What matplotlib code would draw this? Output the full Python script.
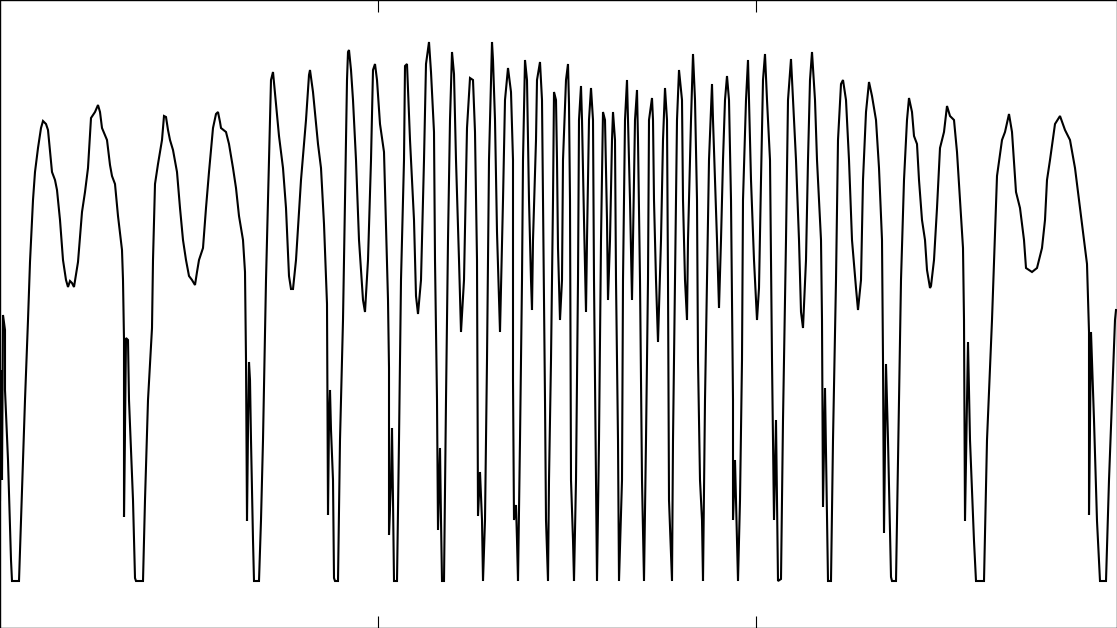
import matplotlib
matplotlib.use("Agg")
import matplotlib.pyplot as plt

# Signal samples (sample index, amplitude)
sample = [
    0, 1, 2, 3, 5, 5, 8, 11, 12, 19, 21, 25, 28, 30, 33, 35, 38, 41, 43, 46, 48, 52, 55, 57, 60, 63, 66, 68, 70, 72, 74, 78,
    82, 85, 88, 91, 95, 98, 100, 102, 107, 110, 112, 115, 118, 122, 123, 124, 124, 126, 128, 129, 133, 135, 136, 143, 145,
    148, 152, 153, 155, 158, 162, 164, 166, 168, 170, 173, 177, 180, 183, 186, 189, 192, 195, 197, 199, 203, 206, 209, 213,
    216, 218, 220, 221, 226, 229, 233, 236, 239, 243, 245, 246, 247, 248, 249, 250, 251, 253, 254, 259, 261, 263, 266, 269,
    271, 273, 276, 279, 283, 286, 289, 291, 293, 296, 301, 306, 309, 310, 313, 318, 321, 324, 327, 328, 329, 330, 331, 333,
    334, 335, 338, 340, 343, 345, 347, 348, 349, 351, 353, 356, 359, 363, 365, 368, 371, 373, 375, 377, 380, 384, 386, 388,
    389, 389, 391, 392, 393, 394, 397, 399, 401, 404, 405, 407, 410, 414, 416, 418, 421, 424, 426, 429, 431, 434, 435, 437,
    438, 440, 441, 442, 444, 446, 448, 450, 452, 454, 456, 459, 461, 464, 466, 467, 470, 473, 475, 477, 478, 480, 482, 483,
    485, 487, 489, 492, 493, 495, 497, 500, 503, 505, 508, 511, 513, 513, 514, 516, 517, 518, 520, 522, 523, 525, 527, 529,
    531, 532, 533, 536, 537, 540, 542, 543, 545, 546, 548, 549, 551, 553, 554, 556, 557, 558, 560, 562, 563, 566, 568, 569,
    570, 571, 573, 574, 576, 578, 579, 581, 582, 584, 586, 587, 589, 591, 593, 594, 596, 597, 599, 601, 603, 605, 607, 608,
    610, 612, 613, 615, 616, 618, 619, 622, 623, 625, 627, 628, 630, 632, 633, 635, 637, 638, 640, 642, 644, 646, 648, 649,
    652, 653, 654, 656, 658, 661, 663, 665, 667, 668, 669, 672, 673, 675, 677, 679, 682, 683, 685, 687, 688, 691, 693, 695,
    697, 698, 700, 702, 703, 705, 707, 709, 712, 713, 715, 717, 719, 721, 723, 725, 727, 729, 731, 733, 733, 735, 737, 738,
    740, 742, 743, 746, 748, 749, 751, 754, 757, 759, 761, 763, 765, 767, 770, 772, 774, 776, 778, 781, 783, 786, 788, 791,
    793, 796, 799, 801, 803, 806, 808, 810, 812, 815, 817, 821, 822, 823, 825, 827, 828, 831, 833, 836, 838, 841, 843, 846,
    849, 852, 856, 858, 861, 863, 866, 869, 872, 876, 879, 882, 883, 884, 886, 888, 891, 892, 896, 899, 901, 904, 907, 909,
    912, 914, 917, 919, 922, 925, 927, 930, 931, 934, 937, 940, 944, 947, 950, 954, 957, 960, 963, 964, 965, 967, 968, 970,
    974, 976, 984, 987, 992, 997, 1002, 1005, 1009, 1012, 1016, 1020, 1024, 1026, 1032, 1037, 1042, 1045, 1047, 1050, 1055,
    1060, 1065, 1070, 1075, 1080, 1084, 1087, 1089, 1089, 1091, 1094, 1097, 1100, 1106, 1109, 1112, 1115, 1116,
]

amplitude = [
    81, 211, 101, 266, 251, 191, 121, 21, 0, 0, 61, 181, 261, 319, 381, 409, 433, 453, 460, 457, 451, 409, 401, 391, 361,
    321, 301, 294, 300, 298, 294, 319, 369, 389, 413, 463, 469, 476, 469, 453, 441, 416, 405, 397, 365, 331, 301, 241, 64,
    243, 241, 181, 81, 3, 0, 0, 81, 181, 253, 321, 397, 417, 441, 465, 464, 451, 441, 431, 409, 373, 341, 321, 305, 301, 296,
    309, 321, 333, 373, 409, 453, 467, 469, 459, 453, 449, 437, 413, 393, 365, 341, 309, 221, 60, 151, 219, 201, 141, 41, 0,
    0, 61, 141, 301, 421, 501, 509, 477, 445, 413, 373, 305, 292, 292, 321, 401, 461, 506, 511, 489, 437, 413, 357, 277, 66,
    161, 191, 151, 101, 3, 0, 0, 141, 261, 381, 501, 529, 531, 511, 481, 421, 341, 281, 269, 321, 421, 511, 517, 501, 457,
    429, 357, 281, 213, 46, 101, 153, 81, 0, 0, 141, 301, 421, 515, 517, 441, 361, 285, 267, 301, 421, 517, 539, 509, 449,
    321, 181, 51, 133, 61, 0, 0, 181, 341, 461, 529, 507, 421, 321, 249, 301, 401, 453, 503, 501, 449, 321, 65, 109, 61, 0,
    61, 221, 421, 539, 521, 461, 349, 249, 381, 481, 513, 489, 421, 201, 61, 76, 41, 0, 141, 301, 421, 521, 501, 381, 301,
    271, 341, 441, 501, 519, 481, 381, 181, 61, 0, 101, 221, 381, 489, 481, 421, 333, 261, 301, 421, 501, 517, 477, 381, 101,
    41, 0, 101, 301, 461, 495, 461, 361, 269, 341, 461, 493, 461, 301, 101, 0, 141, 341, 469, 461, 361, 281, 341, 441, 469,
    441, 301, 141, 0, 101, 301, 461, 501, 461, 381, 281, 341, 461, 491, 441, 301, 101, 0, 141, 301, 461, 483, 461, 381, 301,
    239, 341, 441, 493, 461, 301, 81, 0, 141, 301, 461, 511, 481, 381, 301, 261, 341, 461, 527, 481, 381, 221, 101, 61, 0,
    181, 301, 421, 497, 461, 401, 341, 273, 341, 421, 481, 505, 481, 381, 181, 61, 121, 41, 0, 81, 221, 381, 481, 521, 481,
    401, 321, 261, 293, 401, 501, 527, 481, 421, 221, 61, 161, 0, 2, 161, 341, 481, 522, 481, 421, 341, 269, 253, 321, 421,
    501, 529, 481, 421, 341, 261, 74, 193, 61, 0, 0, 141, 301, 441, 497, 501, 481, 421, 341, 293, 271, 301, 401, 469, 499,
    485, 461, 413, 341, 221, 48, 217, 141, 4, 0, 0, 181, 301, 401, 461, 483, 469, 445, 437, 401, 361, 341, 311, 293, 295,
    321, 373, 433, 449, 475, 465, 461, 429, 381, 333, 261, 60, 181, 239, 141, 40, 0, 0, 141, 261, 405, 441, 449, 467, 449,
    389, 373, 341, 313, 309, 313, 333, 361, 401, 421, 457, 465, 451, 441, 413, 373, 341, 317, 249, 66, 249, 161, 60, 0, 0,
    101, 181, 261, 271,
]

tick_positions = [378, 756]

fig = plt.figure(figsize=(11.17, 6.28), dpi=100)
ax = fig.add_axes([0, 0, 1, 1])
ax.plot(sample, amplitude, color="black", linewidth=1.5, solid_joinstyle="miter")
ax.set_xlim(0, 1117)
ax.set_ylim(-47, 581)
ax.set_xticks(tick_positions)
ax.set_xticklabels([])
ax.set_yticks([])
ax.tick_params(axis="x", direction="in", length=8.5, width=0.8, top=True, bottom=True,
               labelbottom=False, labeltop=False)
for s in ax.spines.values():
    s.set_linewidth(1.0)
    s.set_color("black")
fig.savefig("out.png", dpi=100)
